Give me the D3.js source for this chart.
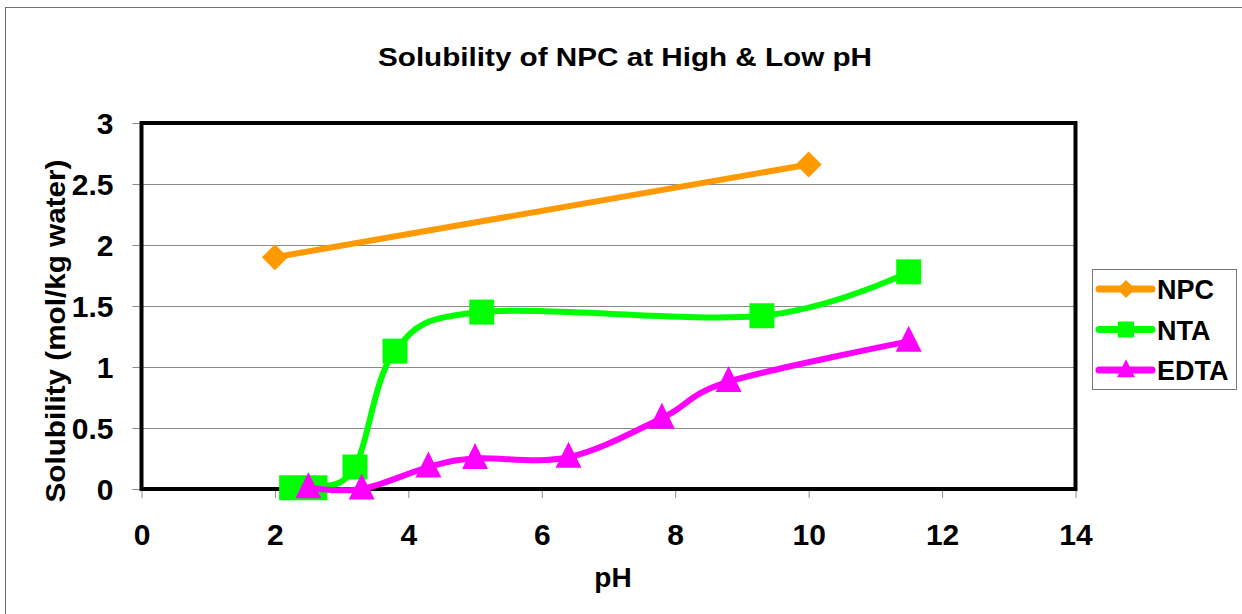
<!DOCTYPE html>
<html>
<head>
<meta charset="utf-8">
<script src="https://cdn.jsdelivr.net/npm/d3@7/dist/d3.min.js"></script>
<style>
  body { margin: 0; background: #fff; }
  svg text { font-family: "Liberation Sans", Arial, sans-serif; font-weight: bold; fill: #000; }
</style>
</head>
<body>
<svg id="chart" width="1242" height="614"></svg>
<script>
// data
var npcPH = [2, 10];
var npcSol = [1.9, 2.66];
var ntaPH = [2.25, 2.6, 3.2, 3.8, 5.1, 9.3, 11.5];
var ntaSol = [0.01, 0.01, 0.18, 1.13, 1.45, 1.42, 1.78];
var edtaPH = [2.5, 3.3, 4.3, 5.0, 6.4, 7.8, 8.8, 11.5];
var edtaSol = [0.01, 0.0, 0.18, 0.25, 0.26, 0.58, 0.88, 1.21];
var xTicks = [0, 2, 4, 6, 8, 10, 12, 14];
var yTicks = [0, 0.5, 1, 1.5, 2, 2.5, 3];

var series = [
    {name: "NPC", color: "#FF9900", marker: "diamond", x: npcPH, y: npcSol},
    {name: "NTA", color: "#00FF00", marker: "square", x: ntaPH, y: ntaSol},
    {name: "EDTA", color: "#FF00FF", marker: "triangle", x: edtaPH, y: edtaSol}
];

var svg = d3.select("#chart");

// plot box (note: "top" is taken by window.top)
var pLeft = 141.5, pRight = 1075.5, pTop = 123, pBottom = 489;

var x = d3.scaleLinear().domain([0, 14]).range([pLeft, pRight]);
var y = d3.scaleLinear().domain([0, 3]).range([pBottom, pTop]);

// outer chart border
svg.append("rect")
    .attr("x", 5.5).attr("y", 7.5)
    .attr("width", 1260).attr("height", 640)
    .attr("fill", "none").attr("stroke", "#6f6f6f").attr("stroke-width", 1);

// title
svg.append("text")
    .attr("x", 625).attr("y", 66)
    .attr("text-anchor", "middle")
    .style("font-size", "25px")
    .attr("textLength", 494).attr("lengthAdjust", "spacingAndGlyphs")
    .text("Solubility of NPC at High & Low pH");

// gridlines
svg.append("g")
    .selectAll("line")
    .data(yTicks.filter(function(d) { return d > 0 && d < 3; }))
    .join("line")
    .attr("x1", pLeft).attr("x2", pRight)
    .attr("y1", function(d) { return Math.round(y(d)) + 0.5; })
    .attr("y2", function(d) { return Math.round(y(d)) + 0.5; })
    .attr("stroke", "#8a8a8a").attr("stroke-width", 1);

// axes, using d3 axis for ticks + labels
var yAxis = d3.axisLeft(y).tickValues(yTicks).tickSize(9).tickPadding(19)
    .tickFormat(function(d) { return d; });
var xAxis = d3.axisBottom(x).tickValues(xTicks).tickSize(9);

var gy = svg.append("g").attr("transform", "translate(" + pLeft + ",0)").call(yAxis);
var gx = svg.append("g").attr("transform", "translate(0," + pBottom + ")").call(xAxis);

[gy, gx].forEach(function(g) {
    g.select(".domain").remove();
    g.selectAll(".tick line").attr("stroke", "#8a8a8a");
    g.selectAll(".tick text")
        .attr("fill", "#000")
        .style("font-family", "'Liberation Sans', Arial, sans-serif")
        .style("font-weight", "bold")
        .style("font-size", "30px");
});
gx.selectAll(".tick text").attr("dy", "0").attr("y", 56);
gy.selectAll(".tick text").attr("dy", "0.35em");

// plot frame
svg.append("rect")
    .attr("x", pLeft).attr("y", pTop)
    .attr("width", pRight - pLeft).attr("height", pBottom - pTop)
    .attr("fill", "none").attr("stroke", "#000").attr("stroke-width", 4);

// axis titles
svg.append("text")
    .attr("x", 613).attr("y", 587)
    .attr("text-anchor", "middle")
    .style("font-size", "28px")
    .text("pH");

svg.append("text")
    .attr("transform", "translate(65,331) rotate(-90)")
    .attr("text-anchor", "middle")
    .style("font-size", "27px")
    .attr("textLength", 343).attr("lengthAdjust", "spacingAndGlyphs")
    .text("Solubility (mol/kg water)");

// markers
function markerPath(type, s) {
    if (type === "diamond") {
        return "M0," + (-s) + "L" + s + ",0L0," + s + "L" + (-s) + ",0Z";
    }
    if (type === "square") {
        return "M" + (-s) + "," + (-s) + "H" + s + "V" + s + "H" + (-s) + "Z";
    }
    // triangle, sits a bit above its point like Excel's
    return "M0," + (-s * 1.2) + "L" + s + "," + (s * 0.8) + "L" + (-s) + "," + (s * 0.8) + "Z";
}

var line = d3.line()
    .x(function(d) { return x(d[0]); })
    .y(function(d) { return y(d[1]); })
    .curve(d3.curveCardinal.tension(0));

var plot = svg.append("g");

series.forEach(function(s) {
    var pts = s.x.map(function(v, i) { return [v, s.y[i]]; });
    plot.append("path")
        .attr("d", line(pts))
        .attr("fill", "none")
        .attr("stroke", s.color)
        .attr("stroke-width", 6)
        .attr("stroke-linejoin", "round")
        .attr("stroke-linecap", "round");
    var sz = s.marker === "diamond" ? 13 : (s.marker === "square" ? 12.5 : 13);
    plot.selectAll(null)
        .data(pts)
        .join("path")
        .attr("transform", function(d) { return "translate(" + x(d[0]) + "," + y(d[1]) + ")"; })
        .attr("d", markerPath(s.marker, sz))
        .attr("fill", s.color);
});

// legend
var legend = svg.append("g");
legend.append("rect")
    .attr("x", 1092.5).attr("y", 269.5)
    .attr("width", 144).attr("height", 120)
    .attr("fill", "#fff").attr("stroke", "#7a7a7a").attr("stroke-width", 1);

var ly = d3.scalePoint().domain(series.map(function(s) { return s.name; })).range([289, 370]);

series.forEach(function(s) {
    var yy = ly(s.name);
    legend.append("line")
        .attr("x1", 1099).attr("x2", 1152)
        .attr("y1", yy).attr("y2", yy)
        .attr("stroke", s.color).attr("stroke-width", 7)
        .attr("stroke-linecap", "round");
    legend.append("path")
        .attr("transform", "translate(1126," + yy + ")")
        .attr("d", markerPath(s.marker, s.marker === "square" ? 8 : 9))
        .attr("fill", s.color);
    legend.append("text")
        .attr("x", 1157).attr("y", yy + 10)
        .style("font-size", "27px")
        .text(s.name);
});
</script>
</body>
</html>
